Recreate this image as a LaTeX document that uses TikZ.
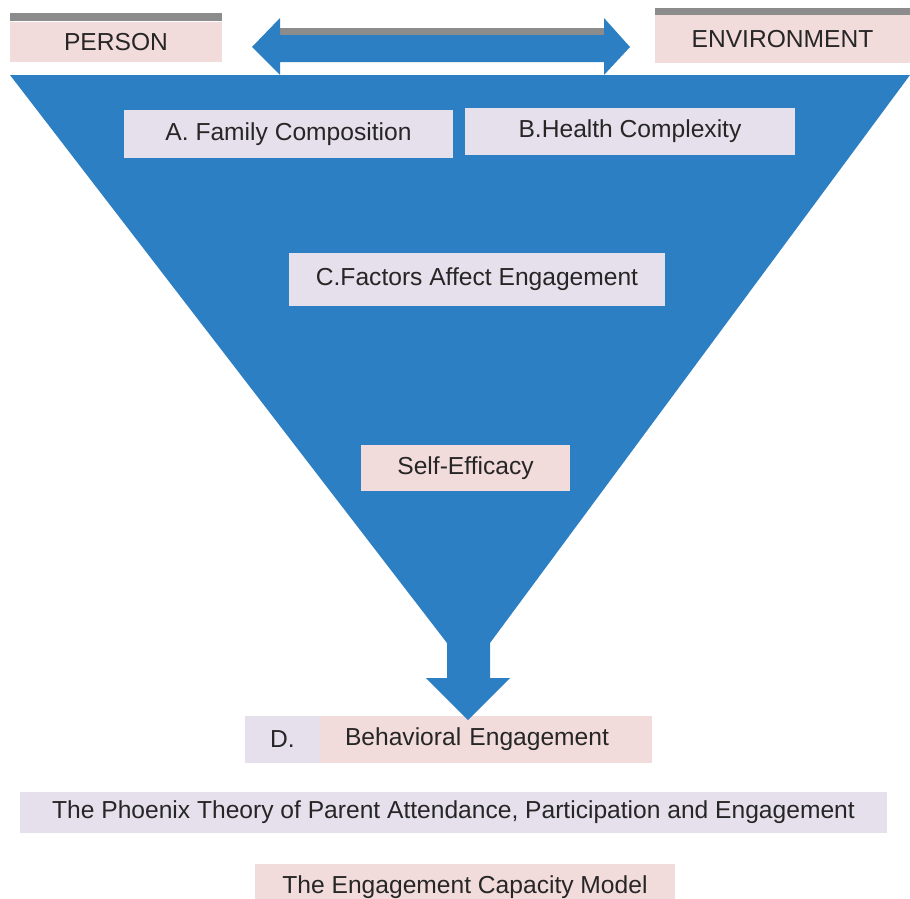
\documentclass[tikz,border=0pt]{standalone}
\usepackage{fontspec}
\setmainfont{Liberation Sans}
\usetikzlibrary{positioning}
\definecolor{funnelblue}{RGB}{45,127,195}
\definecolor{boxpink}{RGB}{242,220,219}
\definecolor{boxlav}{RGB}{229,224,236}
\definecolor{bargray}{RGB}{140,140,140}

\begin{document}
\begin{tikzpicture}[x=0.02cm, y=-0.02cm,
    box/.style={fill=#1, inner sep=0pt, text=black!85,
                font=\fontsize{14}{16}\selectfont},
    box/.default=boxlav,
    bar/.style={fill=bargray}
]
    \useasboundingbox (0,0) rectangle (910,899);

    % Bottom labels (the funnel tip sits over them)
    \node[box=boxlav, minimum width=1.5cm, minimum height=0.94cm] (dlabel) at (282.5,739.5) {D.};
    \node[box=boxpink, minimum width=6.64cm, minimum height=0.94cm, inner xsep=0.5cm,
          text width=5.64cm, align=left] (behav) at (486,739.5) {Behavioral Engagement};
    \node[box=boxlav, minimum width=17.34cm, minimum height=0.82cm] (phoenix) at (453.5,812.5) {The Phoenix Theory of Parent Attendance, Participation and Engagement};
    \node[box=boxpink, minimum width=8.4cm, minimum height=0.94cm] (ecm) at (465,887) {The Engagement Capacity Model};

    % Funnel
    \fill[funnelblue] (10,75) -- (910,75) -- (490,643) -- (490,678) -- (510,678)
        -- (468,720) -- (426,678) -- (447,678) -- (447,643) -- cycle;

    % Person / environment
    \node[box=boxpink, minimum width=4.24cm, minimum height=0.82cm] (person) at (116,42) {PERSON};
    \fill[bar] (10,13) rectangle (222,21);
    \node[box=boxpink, minimum width=5.1cm, minimum height=0.96cm] (env) at (782.5,39) {ENVIRONMENT};
    \fill[bar] (655,8) rectangle (910,15);

    % Double arrow
    \fill[bar] (280,28) rectangle (604,35);
    \fill[funnelblue] (252,47) -- (280,18) -- (280,35) -- (604,35) -- (604,18) -- (630,47)
        -- (604,75) -- (604,62) -- (280,62) -- (280,75) -- cycle;

    % Factors
    \node[box=boxlav, minimum width=6.58cm, minimum height=0.96cm] (famcomp) at (288.5,134) {A. Family Composition};
    \node[box=boxlav, minimum width=6.6cm, minimum height=0.94cm] (health) at (630,131.5) {B.Health Complexity};
    \node[box=boxlav, minimum width=7.52cm, minimum height=1.06cm] (factors) at (477,279.5) {C.Factors Affect Engagement};
    \node[box=boxpink, minimum width=4.18cm, minimum height=0.92cm] (selfeff) at (465.5,468) {Self-Efficacy};
\end{tikzpicture}
\end{document}
